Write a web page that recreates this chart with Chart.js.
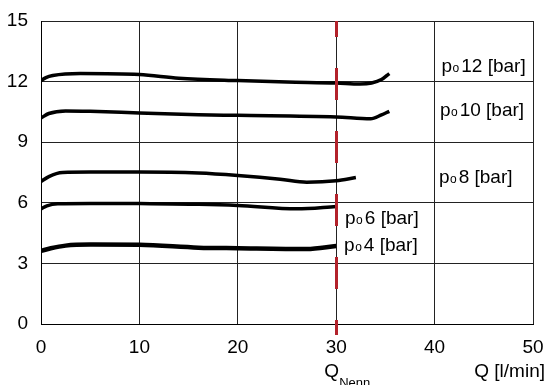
<!DOCTYPE html>
<html>
<head>
<meta charset="utf-8">
<script src="https://cdn.jsdelivr.net/npm/chart.js"></script>
<style>
body { margin: 0; background: #fff; }
canvas { display: block; }
</style>
</head>
<body>
<canvas id="myChart" width="549" height="385"></canvas>
<script>
// flow Q [l/min] and pressure [bar]
var q12 = [0, 0.5, 1.2, 4, 10, 14, 20, 25, 30, 32.4, 33.6, 34.6, 35.4];
var p12 = [12.05, 12.2, 12.3, 12.4, 12.35, 12.17, 12.05, 11.98, 11.93, 11.88, 11.93, 12.1, 12.4];
var q10 = [0, 0.8, 2.5, 5, 10, 16, 20, 30, 33.5, 34.6, 35.4];
var p10 = [10.2, 10.42, 10.55, 10.53, 10.45, 10.36, 10.33, 10.25, 10.16, 10.35, 10.53];
var q8 = [0, 0.8, 2.2, 5, 10, 16, 20, 24.3, 27, 30, 32];
var p8 = [7.05, 7.3, 7.5, 7.52, 7.52, 7.47, 7.35, 7.17, 7.02, 7.09, 7.25];
var q6 = [0, 0.6, 1.7, 5, 10, 16, 20, 26, 30];
var p6 = [5.7, 5.85, 5.95, 5.97, 5.96, 5.93, 5.87, 5.7, 5.82];
var q4 = [0, 1, 2.5, 5, 10, 16, 20, 27, 30];
var p4 = [3.62, 3.75, 3.88, 3.93, 3.92, 3.78, 3.75, 3.71, 3.86];

var xTicks = [0, 10, 20, 30, 40, 50];
var yTicks = [0, 3, 6, 9, 12, 15];
var qNenn = 30;

// curve labels "po 12 [bar]" etc, anchored in data units
var labelText = ['12 [bar]', '10 [bar]', '8 [bar]', '6 [bar]', '4 [bar]'];
var labelQ = [40.7, 40.54, 40.44, 30.9, 30.8];
var labelP = [12.46, 10.28, 6.97, 4.96, 3.63];

function pts(xs, ys) {
    return xs.map(function (x, i) { return { x: x, y: ys[i] }; });
}

function curve(xs, ys, w) {
    return {
        data: pts(xs, ys),
        borderColor: '#000',
        borderWidth: w,
        pointRadius: 0,
        cubicInterpolationMode: 'monotone',
        fill: false
    };
}

var FONT = '"Liberation Sans", Arial, sans-serif';

var extras = {
    id: 'extras',
    afterDatasetsDraw: function (chart) {
        var ctx = chart.ctx;
        var xs = chart.scales.x, ys = chart.scales.y;
        var area = chart.chartArea;

        // Q_Nenn red dashed marker
        var xn = Math.round(xs.getPixelForValue(qNenn)) + 0.5;
        ctx.save();
        ctx.strokeStyle = '#b3222b';
        ctx.lineWidth = 3;
        ctx.setLineDash([32, 31]);
        ctx.lineDashOffset = 16;
        ctx.beginPath();
        ctx.moveTo(xn, area.top);
        ctx.lineTo(xn, area.bottom + 11);
        ctx.stroke();
        ctx.restore();

        // curve labels
        ctx.save();
        ctx.fillStyle = '#000';
        ctx.textBaseline = 'alphabetic';
        ctx.textAlign = 'left';
        for (var i = 0; i < labelText.length; i++) {
            var lx = xs.getPixelForValue(labelQ[i]);
            var ly = ys.getPixelForValue(labelP[i]);
            ctx.font = '19px ' + FONT;
            ctx.fillText('p', lx, ly);
            var pw = ctx.measureText('p').width;
            ctx.font = '12px ' + FONT;
            ctx.fillText('o', lx + pw + 0.5, ly);
            var ow = ctx.measureText('o').width;
            ctx.font = '19px ' + FONT;
            ctx.fillText(labelText[i], lx + pw + ow + 2.5, ly);
        }

        // axis captions
        ctx.font = '19px ' + FONT;
        ctx.fillText('Q', xs.getPixelForValue(qNenn) - 12, 376.5);
        ctx.font = '13px ' + FONT;
        ctx.fillText('Nenn', xs.getPixelForValue(qNenn) + 3, 387);
        ctx.font = '19px ' + FONT;
        ctx.textAlign = 'right';
        ctx.fillText('Q [l/min]', area.right + 12, 376.5);
        ctx.restore();
    }
};

var ctx = document.getElementById('myChart').getContext('2d');
var chart = new Chart(ctx, {
    type: 'line',
    data: {
        datasets: [
            curve(q12, p12, 3.5),
            curve(q10, p10, 3.5),
            curve(q8, p8, 3.5),
            curve(q6, p6, 3.5),
            curve(q4, p4, 4.5)
        ]
    },
    options: {
        responsive: false,
        animation: false,
        layout: { padding: { top: 21, right: 16, left: 0, bottom: 0 } },
        plugins: {
            legend: { display: false },
            tooltip: { enabled: false }
        },
        scales: {
            x: {
                type: 'linear',
                min: 0,
                max: 50,
                afterBuildTicks: function (s) { s.ticks = xTicks.map(function (v) { return { value: v }; }); },
                afterFit: function (s) { s.height = 61; s.paddingLeft = 0; s.paddingRight = 0; },
                ticks: { color: '#000', padding: 12, maxRotation: 0, font: { size: 19, family: FONT } },
                grid: { color: '#222', lineWidth: 1, drawTicks: false },
                border: { color: '#000', width: 1 }
            },
            y: {
                min: 0,
                max: 15,
                afterBuildTicks: function (s) { s.ticks = yTicks.map(function (v) { return { value: v }; }); },
                afterFit: function (s) { s.width = 41; s.paddingTop = 0; s.paddingBottom = 0; },
                ticks: { color: '#000', padding: 13, font: { size: 19, family: FONT } },
                grid: { color: '#222', lineWidth: 1, drawTicks: false },
                border: { color: '#000', width: 1 }
            }
        }
    },
    plugins: [extras]
});
</script>
</body>
</html>
